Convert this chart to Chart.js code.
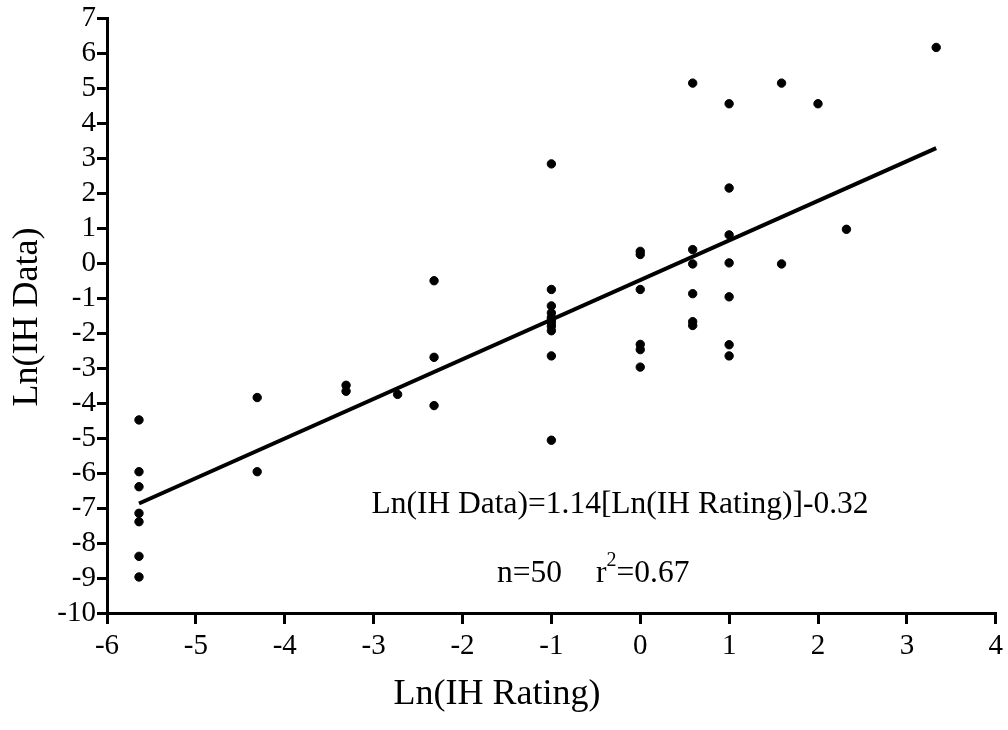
<!DOCTYPE html>
<html>
<head>
<meta charset="utf-8">
<script src="https://cdn.jsdelivr.net/npm/chart.js@4.4.1/dist/chart.umd.min.js"></script>
<style>
html,body{margin:0;padding:0;background:#fff;}
#wrap{width:1008px;height:730px;}
</style>
</head>
<body>
<div id="wrap"><canvas id="c" width="1008" height="730"></canvas></div>
<script>
// Observed points: Ln(IH Rating) vs Ln(IH Data)
const ratingX = [
  -5.64,-5.64,-5.64,-5.64,-5.64,-5.64,-5.64,
  -4.31,-4.31,
  -3.31,-3.31,
  -2.73,
  -2.32,-2.32,-2.32,
  -1,-1,-1,-1,-1,-1,-1,-1,-1,-1,-1,
  0,0,0,0,0,0,
  0.59,0.59,0.59,0.59,0.59,0.59,
  1,1,1,1,1,1,1,
  1.59,1.59,
  2,
  2.32,
  3.33
];
const dataY = [
  -4.48,-5.96,-6.39,-7.15,-7.39,-8.38,-8.97,
  -3.84,-5.96,
  -3.49,-3.66,
  -3.75,
  -0.50,-2.69,-4.07,
  2.84,-0.75,-1.22,-1.42,-1.55,-1.62,-1.70,-1.80,-1.93,-2.65,-5.06,
  0.34,0.25,-0.75,-2.32,-2.47,-2.97,
  5.15,0.39,-0.02,-0.87,-1.67,-1.78,
  4.56,2.15,0.81,0.01,-0.96,-2.33,-2.65,
  5.15,-0.02,
  4.56,
  0.97,
  6.17
];
// Fitted line endpoints as drawn
const fitX = [-5.64, 3.33];
const fitY = [-6.87, 3.29];
// Axis ranges / ticks
const xTicks = [-6,-5,-4,-3,-2,-1,0,1,2,3,4];
const yTicks = [-10,-9,-8,-7,-6,-5,-4,-3,-2,-1,0,1,2,3,4,5,6,7];
const xTitle = 'Ln(IH Rating)';
const yTitle = 'Ln(IH Data)';
const eqText = 'Ln(IH Data)=1.14[Ln(IH Rating)]-0.32';
const nText = 'n=50';
const r2Text = ['r', '2', '=0.67'];

const FONT = '"Liberation Serif", "Times New Roman", serif';

const points = ratingX.map((x,i)=>({x:x, y:dataY[i]}));
const fitPts = fitX.map((x,i)=>({x:x, y:fitY[i]}));

const textPlugin = {
  id:'texts',
  afterDraw(chart){
    const ctx = chart.ctx;
    ctx.save();
    ctx.fillStyle = '#000';
    ctx.textBaseline = 'alphabetic';
    ctx.textAlign = 'center';
    ctx.font = '36px ' + FONT;
    // x title
    ctx.fillText(xTitle, 497, 704);
    // y title
    ctx.save();
    ctx.translate(37, 317);
    ctx.rotate(-Math.PI/2);
    ctx.fillText(yTitle, 0, 0);
    ctx.restore();
    // equation
    ctx.font = '31.5px ' + FONT;
    ctx.fillText(eqText, 620, 513);
    // n and r^2
    ctx.textAlign = 'left';
    ctx.fillText(nText, 497, 582);
    const xr = 596;
    ctx.fillText(r2Text[0], xr, 582);
    const w = ctx.measureText(r2Text[0]).width;
    ctx.font = '20px ' + FONT;
    ctx.fillText(r2Text[1], xr + w, 566);
    const w2 = ctx.measureText(r2Text[1]).width;
    ctx.font = '31.5px ' + FONT;
    ctx.fillText(r2Text[2], xr + w + w2, 582);
    ctx.restore();
  }
};

new Chart(document.getElementById('c'), {
  type:'scatter',
  data:{
    datasets:[
      {data:fitPts, type:'line', showLine:true, borderColor:'#000', borderWidth:4, pointRadius:0, fill:false, order:1},
      {data:points, backgroundColor:'#000', borderColor:'#000', pointRadius:4.2, pointHoverRadius:4.2, order:2}
    ]
  },
  options:{
    responsive:false,
    animation:false,
    layout:{padding:{top:15, right:11, left:0, bottom:0}},
    plugins:{legend:{display:false}, tooltip:{enabled:false}},
    scales:{
      x:{
        type:'linear', min:-6, max:4,
        afterBuildTicks(s){ s.ticks = xTicks.map(v=>({value:v})); },
        afterFit(s){ s.height = 117; },
        border:{display:true, color:'#000', width:3},
        grid:{display:true, drawOnChartArea:false, drawTicks:true, tickLength:11, color:'#000', lineWidth:3},
        ticks:{color:'#000', font:{family:FONT, size:29}, padding:5, maxRotation:0, autoSkip:false}
      },
      y:{
        type:'linear', min:-10, max:7,
        afterBuildTicks(s){ s.ticks = yTicks.map(v=>({value:v})); },
        afterFit(s){ s.width = 107; },
        border:{display:true, color:'#000', width:3},
        grid:{display:true, drawOnChartArea:false, drawTicks:true, tickLength:10, color:'#000', lineWidth:3},
        ticks:{color:'#000', font:{family:FONT, size:29}, padding:1, autoSkip:false}
      }
    }
  },
  plugins:[textPlugin]
});
</script>
</body>
</html>
